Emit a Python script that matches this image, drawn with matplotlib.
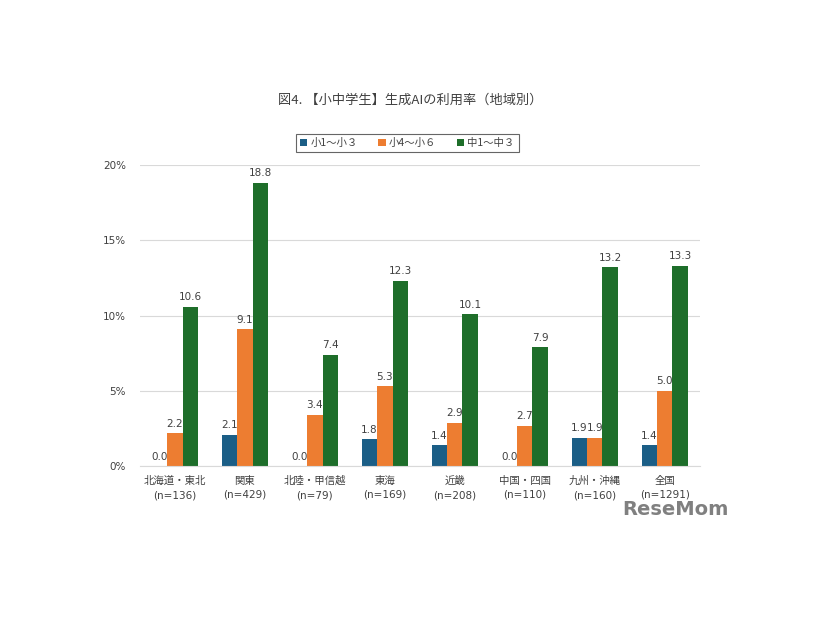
import numpy as np
import matplotlib.pyplot as plt

plt.rcParams['font.family'] = ['DejaVu Sans', 'Noto Sans CJK JP']

regions = ["北海道・東北\n(n=136)", "関東\n(n=429)", "北陸・甲信越\n(n=79)", "東海\n(n=169)",
           "近畿\n(n=208)", "中国・四国\n(n=110)", "九州・沖縄\n(n=160)", "全国\n(n=1291)"]
series_names = ["小1〜小３", "小4〜小６", "中1〜中３"]
low = [0.0, 2.1, 0.0, 1.8, 1.4, 0.0, 1.9, 1.4]
mid = [2.2, 9.1, 3.4, 5.3, 2.9, 2.7, 1.9, 5.0]
high = [10.6, 18.8, 7.4, 12.3, 10.1, 7.9, 13.2, 13.3]
colors = ['#1b5e86', '#ed7d31', '#1e6e2a']

fig = plt.figure(figsize=(8.26, 6.2), dpi=100)
ax = fig.add_axes([0.1695, 0.248, 0.6775, 0.486])

x = np.arange(len(regions))
w = 0.22
for i, (vals, name, c) in enumerate(zip([low, mid, high], series_names, colors)):
    pos = x + (i - 1) * w
    ax.bar(pos, vals, width=w, color=c, label=name)
    for px, v in zip(pos, vals):
        ax.text(px, v + 0.3, f"{v:.1f}", ha='center', va='bottom', fontsize=7.5, color='#404040')

ax.set_xlim(-0.5, len(regions) - 0.5)
ax.set_ylim(0, 20)
ax.set_yticks([0, 5, 10, 15, 20])
ax.set_yticklabels([f"{t}%" for t in [0, 5, 10, 15, 20]], fontsize=7.5, color='#404040')
ax.set_xticks(x)
ax.set_xticklabels(regions, fontsize=7.5, color='#404040', linespacing=1.5)
ax.tick_params(length=0)
ax.tick_params(axis='y', pad=10)
ax.tick_params(axis='x', pad=7)
ax.grid(axis='y', color='#d9d9d9', linewidth=0.8)
ax.set_axisbelow(True)
for s in ['top', 'right', 'left']:
    ax.spines[s].set_visible(False)
ax.spines['bottom'].set_color('#d9d9d9')

fig.text(0.497, 0.838, "図4. 【小中学生】生成AIの利用率（地域別）", ha='center', va='center',
         fontsize=9.5, color='#404040', family=['Noto Sans CJK JP', 'DejaVu Sans'])
leg = fig.legend(loc='center', bbox_to_anchor=(0.493, 0.769), ncol=3,
                 prop={'family': ['Noto Sans CJK JP', 'DejaVu Sans'], 'size': 7.5},
                 frameon=True, fancybox=False, edgecolor='#404040', handlelength=0.7,
                 handleheight=0.7, handletextpad=0.3, columnspacing=2.0, borderpad=0.4)
leg.get_frame().set_linewidth(0.8)
for t in leg.get_texts():
    t.set_color('#404040')

fig.text(0.753, 0.178, "ReseMom", ha='left', va='center', fontsize=14, fontweight='bold',
         color='#808080', family='Liberation Sans Narrow')

fig.savefig('out.png', dpi=100, facecolor='white')
